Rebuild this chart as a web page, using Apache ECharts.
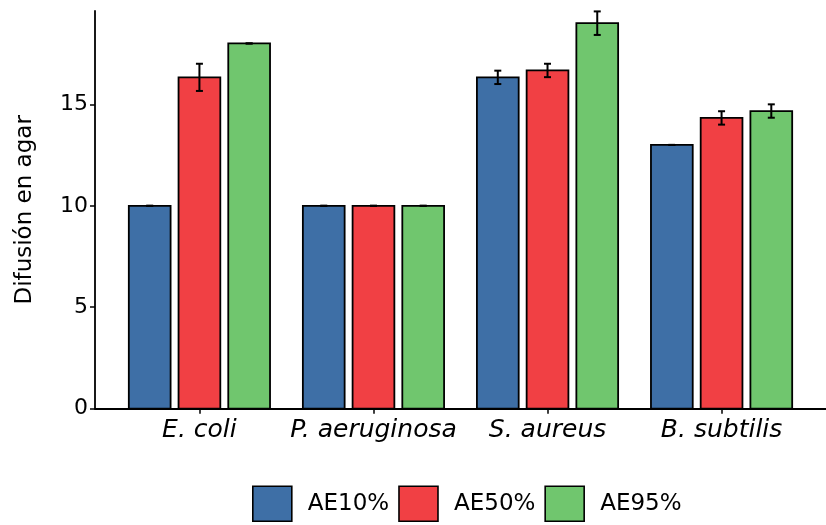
<!DOCTYPE html>
<html>
<head>
<meta charset="utf-8">
<script src="https://cdn.jsdelivr.net/npm/echarts@6/dist/echarts.min.js"></script>
<style>
  html, body { margin: 0; padding: 0; background: #ffffff; }
  #chart { width: 826px; height: 525px; }
</style>
</head>
<body>
<div id="chart"></div>
<script>
const categories = ['E. coli', 'P. aeruginosa', 'S. aureus', 'B. subtilis'];
const seriesNames = ['AE10%', 'AE50%', 'AE95%'];
const ae10 = [10, 10, 16.33, 13];
const ae10Err = [0, 0, 0.33, 0];
const ae50 = [16.33, 10, 16.67, 14.33];
const ae50Err = [0.67, 0, 0.33, 0.33];
const ae95 = [18, 10, 19, 14.67];
const ae95Err = [0, 0, 0.58, 0.33];
const yTickValues = [0, 5, 10, 15];
const xTickValues = [1, 2, 3, 4];

const colors = ['#3E6FA6', '#F14044', '#70C66E'];
const FONT = 'DejaVu Sans';
const BAR_W = 0.24;
const STEP = 0.2857;

function makeSeries(name, means, errs, idx) {
  const off = (idx - 1) * STEP;
  return {
    name: name,
    type: 'custom',
    itemStyle: { color: colors[idx], borderColor: '#000', borderWidth: 1.6 },
    encode: { x: 0, y: 1 },
    data: means.map((m, i) => [i + 1, m, errs[i]]),
    renderItem: function (params, api) {
      const x = api.value(0), y = api.value(1), e = api.value(2);
      const unit = api.size([1, 0])[0];
      const cx = api.coord([x, 0])[0] + off * unit;
      const base = api.coord([x, 0])[1];
      const top = api.coord([x, y])[1];
      const hi = api.coord([x, y + e])[1];
      const lo = api.coord([x, y - e])[1];
      const w = BAR_W * unit;
      const cap = 3.5;
      return {
        type: 'group',
        children: [
          { type: 'rect', shape: { x: cx - w / 2, y: top, width: w, height: base - top },
            style: { fill: api.visual('color'), stroke: '#000', lineWidth: 1.8 } },
          { type: 'line', shape: { x1: cx, y1: hi, x2: cx, y2: lo }, style: { stroke: '#000', lineWidth: 2 } },
          { type: 'line', shape: { x1: cx - cap, y1: hi, x2: cx + cap, y2: hi }, style: { stroke: '#000', lineWidth: 2 } },
          { type: 'line', shape: { x1: cx - cap, y1: lo, x2: cx + cap, y2: lo }, style: { stroke: '#000', lineWidth: 2 } }
        ]
      };
    }
  };
}

const chart = echarts.init(document.getElementById('chart'), null, { renderer: 'canvas' });
chart.setOption({
  animation: false,
  backgroundColor: '#ffffff',
  color: colors,
  grid: { left: 95, top: 11, width: 735, height: 397.7, containLabel: false },
  xAxis: {
    type: 'value',
    min: 0.4,
    max: 4.6,
    splitLine: { show: false },
    axisLine: { show: true, lineStyle: { color: '#000', width: 1.8 } },
    axisTick: { show: true, length: 5, customValues: xTickValues, lineStyle: { color: '#000', width: 1.5 } },
    axisLabel: {
      customValues: xTickValues,
      margin: 9,
      color: '#000',
      fontFamily: FONT,
      fontSize: 25,
      fontStyle: 'italic',
      formatter: v => categories[Math.round(v) - 1]
    }
  },
  yAxis: {
    type: 'value',
    min: 0,
    max: 19.6,
    name: 'Difusión en agar',
    nameLocation: 'middle',
    nameGap: 58,
    nameTextStyle: { color: '#000', fontFamily: FONT, fontSize: 23 },
    splitLine: { show: false },
    axisLine: { show: true, lineStyle: { color: '#000', width: 1.8 } },
    axisTick: { show: true, length: 5, customValues: yTickValues, lineStyle: { color: '#000', width: 1.5 } },
    axisLabel: { customValues: yTickValues, margin: 7, color: '#000', fontFamily: FONT, fontSize: 22 }
  },
  legend: {
    left: 252,
    bottom: 3,
    padding: 0,
    icon: 'rect',
    itemWidth: 39,
    itemHeight: 35,
    itemGap: 9,
    itemStyle: { borderColor: '#000', borderWidth: 1.6 },
    textStyle: { color: '#000', fontFamily: FONT, fontSize: 23, padding: [0, 0, 0, 11] },
    data: seriesNames
  },
  series: [
    makeSeries(seriesNames[0], ae10, ae10Err, 0),
    makeSeries(seriesNames[1], ae50, ae50Err, 1),
    makeSeries(seriesNames[2], ae95, ae95Err, 2)
  ]
});
</script>
</body>
</html>
